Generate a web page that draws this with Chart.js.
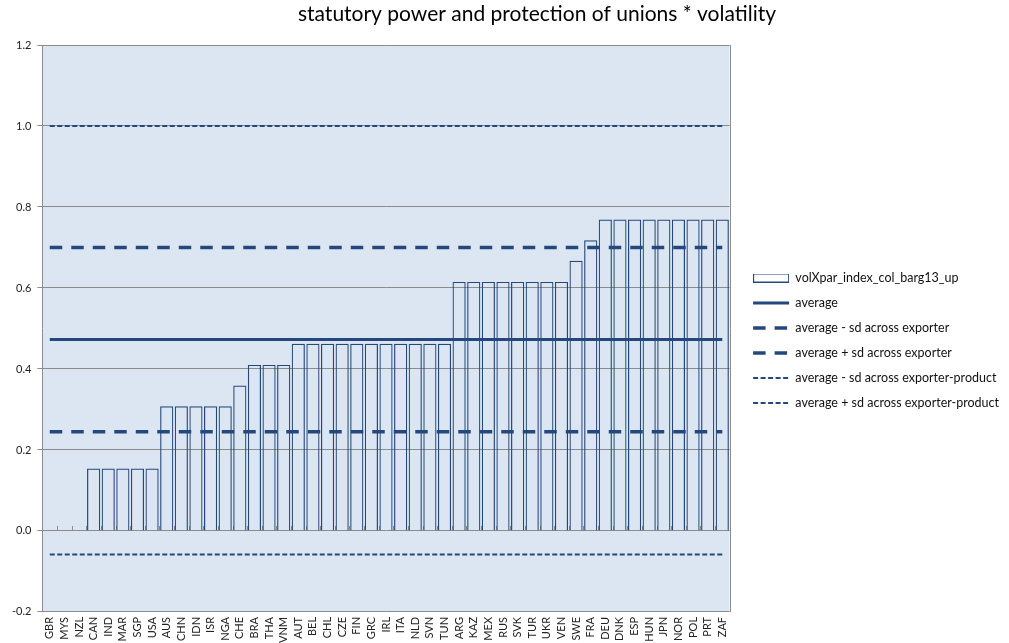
<!DOCTYPE html>
<html>
<head>
<meta charset="utf-8">
<script src="https://cdn.jsdelivr.net/npm/chart.js@4.4.1/dist/chart.umd.min.js"></script>
<style>
  html, body { margin: 0; padding: 0; background: #fff; }
  #wrap { position: relative; width: 1009px; height: 643px; }
</style>
</head>
<body>
<div id="wrap"><canvas id="unionChart"></canvas></div>
<script>
// countries, sorted as in the figure
const countries = ['GBR','MYS','NZL','CAN','IND','MAR','SGP','USA','AUS','CHN','IDN','ISR','NGA','CHE','BRA','THA','VNM',
    'AUT','BEL','CHL','CZE','FIN','GRC','IRL','ITA','NLD','SVN','TUN','ARG','KAZ','MEX','RUS','SVK','TUR','UKR','VEN',
    'SWE','FRA','DEU','DNK','ESP','HUN','JPN','NOR','POL','PRT','ZAF'];

// volXpar_index_col_barg13_up
const volValues = [0, 0, 0, 0.154, 0.154, 0.154, 0.154, 0.154, 0.308, 0.308, 0.308, 0.308, 0.308, 0.359, 0.410, 0.410, 0.410,
    0.462, 0.462, 0.462, 0.462, 0.462, 0.462, 0.462, 0.462, 0.462, 0.462, 0.462, 0.615, 0.615, 0.615, 0.615, 0.615, 0.615, 0.615, 0.615,
    0.667, 0.718, 0.769, 0.769, 0.769, 0.769, 0.769, 0.769, 0.769, 0.769, 0.769];

// reference lines
const lineLabels = ['average', 'average - sd across exporter', 'average + sd across exporter',
    'average - sd across exporter-product', 'average + sd across exporter-product'];
const lineValues = [0.473, 0.245, 0.700, -0.058, 1.000];

const yTicks = [-0.2, 0, 0.2, 0.4, 0.6, 0.8, 1.0, 1.2];

const navy = '#24487c';
const FONT = 'Lato, "Open Sans", sans-serif';

// legend swatch for the bars (hollow rectangle)
const barSwatch = document.createElement('canvas');
barSwatch.width = 36; barSwatch.height = 9;
(function () {
    const c = barSwatch.getContext('2d');
    c.strokeStyle = navy; c.lineWidth = 1;
    c.strokeRect(0.5, 0.5, 35, 8);
})();

const lineStyles = [
    { width: 3, dash: [] },
    { width: 3.3, dash: [12.5, 9] },
    { width: 3.3, dash: [12.5, 9] },
    { width: 2, dash: [5, 2.5] },
    { width: 2, dash: [5, 2.5] }
];

const datasets = [{
    type: 'bar',
    label: 'volXpar_index_col_barg13_up',
    data: volValues,
    backgroundColor: 'rgba(0,0,0,0)',
    borderColor: navy,
    borderWidth: 1.2,
    barPercentage: 0.9,
    categoryPercentage: 1.0,
    order: 2,
    legendStyle: barSwatch
}];
lineValues.forEach((v, i) => {
    datasets.push({
        type: 'line',
        label: lineLabels[i],
        data: [{ x: countries[0], y: v }, { x: countries[countries.length - 1], y: v }],
        borderColor: navy,
        backgroundColor: navy,
        borderWidth: lineStyles[i].width,
        borderDash: lineStyles[i].dash,
        pointRadius: 0,
        pointStyle: 'line',
        order: 1,
        legendStyle: 'line'
    });
});

// plot background, border, axis ticks at zero, title; legend gets a wider box and sits a bit off the plot
const frame = {
    id: 'frame',
    beforeLayout(chart) {
        const lg = chart.legend;
        if (lg && !lg._wide) {
            const fit = lg.fit;
            lg.fit = function () { this.maxWidth = Math.max(this.maxWidth, 290); fit.call(this); };
            lg._wide = true;
        }
    },
    afterLayout(chart) {
        const lg = chart.legend;
        if (lg) { lg.left += 11; lg.right += 11; lg.top -= 6; lg.bottom -= 6; }
    },
    beforeDraw(chart) {
        const { ctx, chartArea: a } = chart;
        ctx.save();
        ctx.fillStyle = '#dce6f2';
        ctx.fillRect(a.left, a.top, a.right - a.left, a.bottom - a.top);
        ctx.restore();
    },
    beforeDatasetsDraw(chart) {
        const { ctx, chartArea: a, scales } = chart;
        ctx.save();
        ctx.strokeStyle = '#8c8c8c';
        ctx.lineWidth = 1;
        ctx.beginPath();
        ctx.moveTo(Math.round(a.right) + 0.5, a.top);
        ctx.lineTo(Math.round(a.right) + 0.5, a.bottom);
        const y0 = Math.round(scales.y.getPixelForValue(0));
        for (let i = 0; i <= countries.length; i++) {
            const x = Math.round(scales.x.getPixelForValue(i - 0.5)) + 0.5;
            ctx.moveTo(x, y0 - 5);
            ctx.lineTo(x, y0);
        }
        ctx.stroke();
        ctx.restore();
    },
    afterDraw(chart) {
        const ctx = chart.ctx;
        ctx.save();
        ctx.font = '21px ' + FONT;
        ctx.fillStyle = '#000';
        ctx.textAlign = 'center';
        ctx.textBaseline = 'middle';
        ctx.fillText('statutory power and protection of unions * volatility', 537, 14);
        ctx.restore();
    }
};

function draw() {
    new Chart(document.getElementById('unionChart'), {
        data: { labels: countries, datasets: datasets },
        plugins: [frame],
        options: {
            responsive: true,
            maintainAspectRatio: false,
            animation: false,
            layout: { padding: { top: 45, left: 6, right: 11, bottom: -5 } },
            scales: {
                x: {
                    type: 'category',
                    offset: true,
                    grid: { display: false, drawTicks: false },
                    border: { display: false },
                    ticks: {
                        autoSkip: false,
                        minRotation: 90,
                        maxRotation: 90,
                        padding: 5,
                        color: '#222',
                        font: { family: FONT, size: 11 }
                    }
                },
                y: {
                    min: -0.2,
                    max: 1.2,
                    afterBuildTicks(axis) { axis.ticks = yTicks.map(v => ({ value: v })); },
                    grid: { color: '#8c8c8c', tickLength: 5, lineWidth: 1 },
                    border: { color: '#8c8c8c' },
                    ticks: {
                        padding: 6,
                        color: '#222',
                        font: { family: FONT, size: 11 },
                        callback: v => v.toFixed(1)
                    }
                }
            },
            plugins: {
                title: { display: false },
                tooltip: { enabled: false },
                legend: {
                    display: true,
                    position: 'right',
                    align: 'center',
                    labels: {
                        usePointStyle: true,
                        pointStyleWidth: 36,
                        padding: 12.5,
                        color: '#111',
                        font: { family: FONT, size: 12.5 },
                        sort: (a, b) => a.datasetIndex - b.datasetIndex,
                        generateLabels(chart) {
                            const items = Chart.defaults.plugins.legend.labels.generateLabels(chart);
                            items.forEach(it => {
                                const ds = chart.data.datasets[it.datasetIndex];
                                it.pointStyle = ds.legendStyle;
                                it.lineWidth = ds.borderWidth;
                                it.lineDash = ds.borderDash || [];
                            });
                            return items;
                        }
                    }
                }
            }
        }
    });
}

Promise.all([document.fonts.load('12px Lato'), document.fonts.load('21px Lato')])
    .then(draw, draw);
</script>
</body>
</html>
